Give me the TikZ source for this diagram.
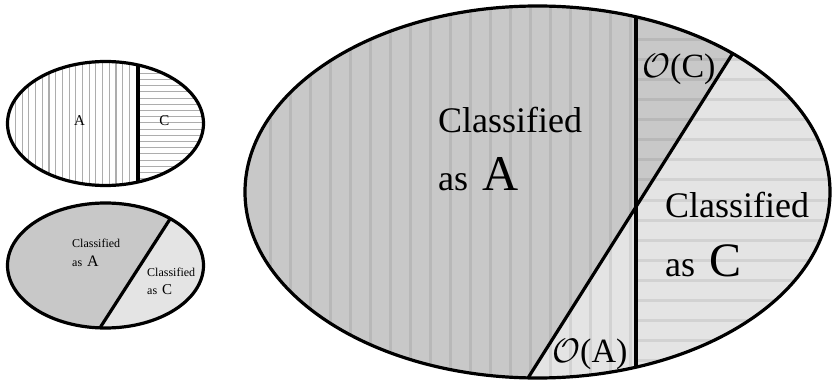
\documentclass[tikz,border=0pt]{standalone}
\usepackage{graphicx}
\usepackage{fontspec}
\setmainfont{Liberation Serif}
\definecolor{darkfill}{HTML}{C8C8C8}
\definecolor{lightfill}{HTML}{E4E4E4}
\tikzset{
  outline/.style={line width=3.2pt, draw=black},
  divider/.style={line width=3.2pt, draw=black},
  finestripe/.style={line width=1.1pt, draw=black!32},
  widestripe/.style={line width=3pt, draw=black, draw opacity=0.08},
  lbl/.style={inner sep=0pt, anchor=base west, text=black},
}
\newcommand{\fs}[1]{\fontsize{#1}{#1}\selectfont}
\newcommand{\bigO}{\scalebox{1.366}{\fs{24.88}$\mathcal{O}$}}
\begin{document}
\begin{tikzpicture}[x=1pt,y=-1pt]
\useasboundingbox (0,0) rectangle (833,385);

% ---- small ellipse: hatched classes A and C ----
\coordinate (sA) at (105.5,123.5);
\begin{scope}
  \clip (sA) ellipse [x radius=98pt, y radius=62pt];
  \fill[white] (0,50) rectangle (220,200);
  \foreach \x in {15.5,22.2,...,136} \draw[finestripe] (\x,50) -- (\x,200);
  \foreach \y in {73.3,79.5,...,190} \draw[finestripe] (138,\y) -- (220,\y);
  \draw[divider] (138,50) -- (138,200);
\end{scope}
\draw[outline] (sA) ellipse [x radius=98pt, y radius=62pt];
\node[inner sep=0pt, font=\fs{15}] (tA) at (79.5,121) {A};
\node[inner sep=0pt, font=\fs{15}] (tC) at (164.5,121) {C};

% ---- small ellipse: classification regions ----
\coordinate (sB) at (105.5,265.5);
\begin{scope}
  \clip (sB) ellipse [x radius=98pt, y radius=62.5pt];
  \fill[darkfill] (0,190) rectangle (220,340);
  \fill[lightfill] (180.6,202.6) -- (87.4,347.4) -- (220,347.4) -- (220,202.6) -- cycle;
  \draw[divider] (180.6,202.6) -- (87.4,347.4);
\end{scope}
\draw[outline] (sB) ellipse [x radius=98pt, y radius=62.5pt];
\node[lbl, font=\fs{12}] (bA1) at (72,247) {Classified};
\node[lbl, font=\fs{12}] (bA2) at (72,266) {as\hspace{5pt}{\fs{16}A}};
\node[lbl, font=\fs{12}] (bC1) at (147,276) {Classified};
\node[lbl, font=\fs{12}] (bC2) at (147,294) {as\hspace{5pt}{\fs{15}C}};

% ---- large ellipse: overlap of classes and classifications ----
\coordinate (bigC) at (537.5,192);
\begin{scope}
  \clip (bigC) ellipse [x radius=292.5pt, y radius=186pt];
  \fill[darkfill] (240,0) rectangle (840,390);
  \fill[lightfill] (774,-12) -- (487,443) -- (840,443) -- (840,-12) -- cycle;
  \foreach \x in {270,290,...,630} \draw[widestripe] (\x,0) -- (\x,390);
  \foreach \y in {0,20,...,380} \draw[widestripe] (637.5,\y) -- (840,\y);
  \draw[divider] (636,0) -- (636,390);
  \draw[divider] (774,-12) -- (487,443);
\end{scope}
\draw[outline] (bigC) ellipse [x radius=292.5pt, y radius=186pt];

\node[lbl, font=\fs{36}] (LA1) at (438,133) {Classified};
\node[lbl, font=\fs{36}] (LA2) at (438,190) {as\hspace{14pt}{\fs{50}A}};
\node[lbl, font=\fs{36}] (LC1) at (665,218) {Classified};
\node[lbl, font=\fs{36}] (LC2) at (665,276) {as\hspace{14pt}{\fs{48}C}};
\node[lbl, font=\fs{34}] (OC) at (642,78) {\bigO(C)};
\node[lbl, font=\fs{34}] (OA) at (552,362) {\bigO(A)};
\end{tikzpicture}
\end{document}
